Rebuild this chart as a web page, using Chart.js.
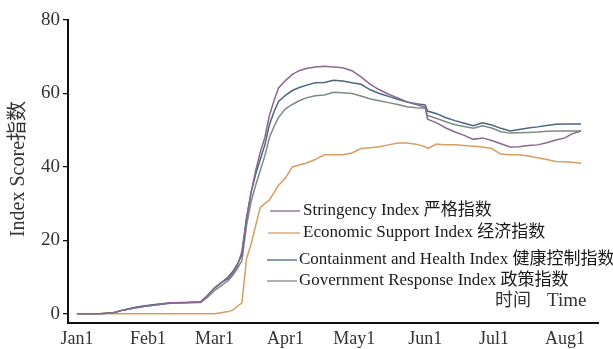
<!DOCTYPE html>
<html>
<head>
<meta charset="utf-8">
<script src="https://cdn.jsdelivr.net/npm/chart.js@4/dist/chart.umd.min.js"></script>
<style>
html,body{margin:0;padding:0;background:#fff;}
#wrap{width:613px;height:349px;position:relative;}
</style>
</head>
<body>
<div id="wrap"><canvas id="c" width="613" height="349"></canvas></div>
<script>
// Day index from Jan 1 (2020)
const days = [0,10,16,20,25,29,35,41,47,54,57,60,63,66,68,70,72,74,76,78,80,82,84,86,88,91,94,97,100,104,108,112,116,120,124,128,132,136,140,144,148,152,153,157,161,165,169,173,177,181,185,189,193,197,201,205,209,213,216,220];
const stringency = [0,0,0.3,1,1.6,2,2.5,3,3,3.2,5,7,8.5,9.5,11,13,17,26,33,39,44,48,54,58,61.5,63.5,65.2,66.2,66.8,67.2,67.4,67.2,67,66.2,64.5,62.5,61,59.8,58.8,57.7,57,56.3,53,52,50.6,49.5,48.6,47.5,47.9,47.2,46.3,45.4,45.5,45.8,46,46.6,47.3,47.9,49,49.8];
const economic = [0,0,0,0,0,0,0,0,0,0,0,0,0.3,0.6,1,2,3,15,19,24,29,30,31,33,35,37,40,40.5,41,42,43.3,43.3,43.3,43.8,45,45.2,45.5,46,46.5,46.5,46.2,45.5,45,46.2,46,46,45.8,45.6,45.4,45,43.5,43.3,43.3,43,42.5,42,41.5,41.4,41.3,41];
const containment = [0,0,0.3,1,1.7,2.1,2.6,3,3.1,3.3,5,7,8.5,10,11.5,13.5,16,26,33,38,42,46,51.5,55,57.8,59.5,60.8,61.6,62.2,62.9,63,63.6,63.4,62.9,62.5,61,60,59.2,58.4,57.7,57.2,56.9,55.2,54.5,53.4,52.6,51.9,51.2,52,51.4,50.5,49.8,50.2,50.6,50.9,51.3,51.6,51.7,51.7,51.7];
const government = [0,0,0.3,1,1.6,2,2.5,2.9,3,3.1,4.5,6.3,7.7,9,10.5,12.3,14.5,24,30.5,35,39,43,48,51,53.5,55.8,57,58,58.8,59.4,59.6,60.3,60.2,60,59.3,58.5,58,57.5,57,56.4,56.1,56,54,53.2,52.3,51.5,51,50.5,51.2,50.6,49.6,49.2,49.3,49.4,49.5,49.7,49.8,49.8,49.8,49.8];

const monthTicks = [0,31,60,91,121,152,182,213];
const monthLabels = ['Jan1','Feb1','Mar1','Apr1','May1','Jun1','Jul1','Aug1'];
const yTicks = [0,20,40,60,80];
const seriesNames = ['Stringency Index 严格指数','Economic Support Index 经济指数','Containment and Health Index 健康控制指数','Government Response Index 政策指数'];
const seriesColors = ['#8a6890','#d69e60','#4a6682','#7c8b7f'];
const yTitle = 'Index Score指数';
const xTitleCn = '时间';
const xTitleEn = 'Time';

const FONT = "'Liberation Serif','Noto Sans CJK SC',serif";
const allSeries = [stringency, economic, containment, government];

function toPoints(vals){ return days.map((d,i)=>({x:d,y:vals[i]})); }

const overlay = {
  id:'overlay',
  afterDraw(chart){
    const ctx = chart.ctx;
    ctx.save();
    ctx.translate(19,169);
    ctx.rotate(-Math.PI/2);
    ctx.fillStyle='#333';
    ctx.font = "20px " + FONT;
    ctx.textAlign='center';
    ctx.textBaseline='middle';
    ctx.fillText(yTitle,0,0);
    ctx.restore();

    ctx.save();
    const leg = [
      {x1:270,x2:300,y:211,tx:303},
      {x1:268,x2:300,y:233,tx:303},
      {x1:267,x2:297,y:260,tx:299},
      {x1:267,x2:297,y:281,tx:299}
    ];
    ctx.font = "17px " + FONT;
    ctx.textBaseline='middle';
    ctx.textAlign='left';
    leg.forEach((l,i)=>{
      ctx.strokeStyle = seriesColors[i];
      ctx.lineWidth = 1.3;
      ctx.beginPath(); ctx.moveTo(l.x1,l.y); ctx.lineTo(l.x2,l.y); ctx.stroke();
      ctx.fillStyle = '#1a1a1a';
      ctx.fillText(seriesNames[i], l.tx, l.y);
    });
    ctx.font = "18px " + FONT;
    ctx.fillStyle='#333';
    ctx.fillText(xTitleCn, 495, 301);
    ctx.font = "19px " + FONT;
    ctx.fillText(xTitleEn, 547, 301);
    ctx.restore();
  }
};

new Chart(document.getElementById('c'), {
  type:'line',
  data:{
    datasets: allSeries.map((s,i)=>({
      label: seriesNames[i],
      data: toPoints(s),
      borderColor: seriesColors[i],
      borderWidth: 1.5,
      pointRadius: 0,
      tension: 0,
      fill: false
    }))
  },
  options:{
    responsive:false,
    animation:false,
    layout:{padding:{left:0,right:15,top:20,bottom:0}},
    plugins:{legend:{display:false},tooltip:{enabled:false}},
    scales:{
      x:{
        type:'linear',
        min:-3.9, max:227.4,
        afterBuildTicks(scale){ scale.ticks = monthTicks.map(v=>({value:v})); },
        afterFit(scale){ scale.height = 26; },
        grid:{display:false,drawTicks:false},
        border:{display:true,color:'#111',width:2},
        ticks:{autoSkip:false,maxRotation:0,padding:5,color:'#333',
          font:{family:FONT,size:18},
          callback(v){ const i = monthTicks.indexOf(v); return i>=0?monthLabels[i]:''; }
        }
      },
      y:{
        min:-2.5, max:80,
        afterBuildTicks(scale){ scale.ticks = yTicks.map(v=>({value:v})); },
        afterFit(scale){ scale.width = 68; },
        grid:{display:true,drawOnChartArea:false,drawTicks:true,tickLength:5,color:'#111',lineWidth:1.3},
        border:{display:true,color:'#111',width:2},
        ticks:{padding:3,color:'#333',font:{family:FONT,size:19}}
      }
    }
  },
  plugins:[overlay]
});
</script>
</body>
</html>
